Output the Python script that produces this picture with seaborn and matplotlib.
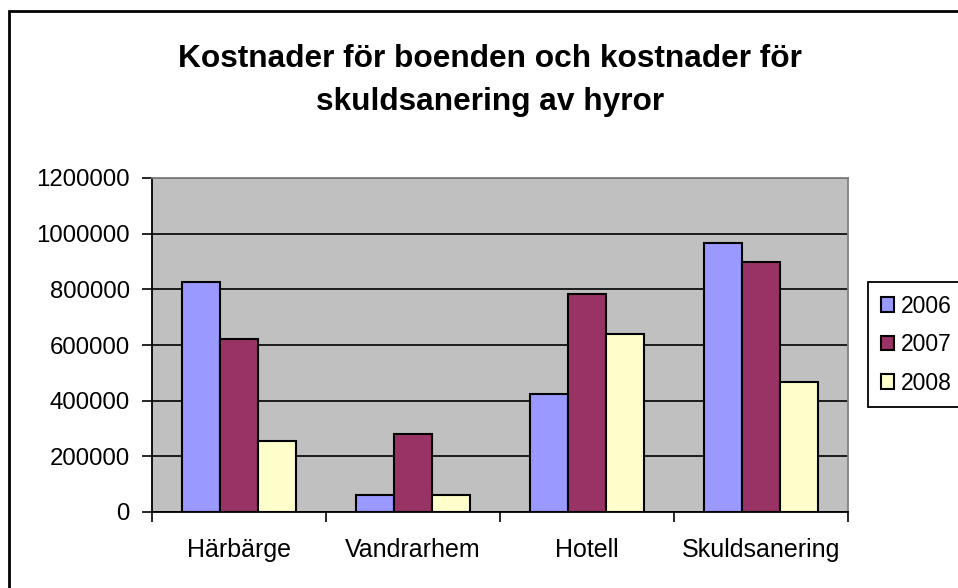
import matplotlib
matplotlib.use("Agg")
import matplotlib.pyplot as plt
from matplotlib.patches import Rectangle
import seaborn as sns
import pandas as pd

categories = ["Härbärge", "Vandrarhem", "Hotell", "Skuldsanering"]
years = ["2006", "2007", "2008"]
v2006 = [825000, 62000, 424000, 968000]
v2007 = [622000, 279000, 782000, 897000]
v2008 = [256000, 62000, 638000, 466000]
yticks = [0, 200000, 400000, 600000, 800000, 1000000, 1200000]
title = "Kostnader för boenden och kostnader för\nskuldsanering av hyror"
colors = ["#9999FF", "#993366", "#FFFFCC"]

rows = []
for yr, vals in zip(years, [v2006, v2007, v2008]):
    for c, v in zip(categories, vals):
        rows.append({"Kategori": c, "År": yr, "Värde": v})
df = pd.DataFrame(rows)

sns.set_style("white")
plt.rcParams["font.family"] = ["Liberation Sans", "DejaVu Sans"]
plt.rcParams["text.color"] = "black"
plt.rcParams["xtick.color"] = "black"
plt.rcParams["ytick.color"] = "black"
plt.rcParams["xtick.labelcolor"] = "black"
plt.rcParams["ytick.labelcolor"] = "black"

fig = plt.figure(figsize=(9.58, 5.88), dpi=100)
fig.patch.set_facecolor("white")
ax = fig.add_axes([152/958, 1-512/588, (848-152)/958, (512-178)/588])

sns.barplot(data=df, x="Kategori", y="Värde", hue="År", order=categories,
            hue_order=years, palette=colors, width=0.66, saturation=1,
            edgecolor="black", linewidth=1.5, ax=ax, legend=True)

ax.set_facecolor("#C0C0C0")
ax.set_xlim(-0.5, 3.5)
ax.set_ylim(0, 1200000)
ax.set_yticks(yticks)
ax.set_yticklabels([str(t) for t in yticks])
ax.set_xlabel("")
ax.set_ylabel("")
ax.set_axisbelow(True)
ax.yaxis.grid(True, color="black", linewidth=1.2)
ax.xaxis.grid(False)

for s in ["left", "bottom"]:
    ax.spines[s].set_color("black")
    ax.spines[s].set_linewidth(1.3)
for s in ["top", "right"]:
    ax.spines[s].set_color("#808080")
    ax.spines[s].set_linewidth(1.3)

ax.tick_params(axis="y", which="major", direction="out", length=7, width=1.2,
               color="black", labelcolor="black", labelsize=17.3, pad=9, left=True)
ax.set_xticks([0, 1, 2, 3])
ax.set_xticklabels(categories)
ax.tick_params(axis="x", which="major", length=0, labelsize=18, pad=19,
               labelcolor="black")
ax.set_xticks([-0.5, 0.5, 1.5, 2.5, 3.5], minor=True)
ax.tick_params(axis="x", which="minor", direction="out", length=7, width=1.2,
               color="black", bottom=True)

fig.text(490/958, 1-80.5/588, title, ha="center", va="center", color="black",
         fontsize=22.8, fontweight="bold", linespacing=1.58)

handles, labels = ax.get_legend_handles_labels()
leg = ax.legend(handles, labels, loc="upper left",
                bbox_to_anchor=(868/958, 1-282/588), bbox_transform=fig.transFigure,
                frameon=True, fancybox=False, edgecolor="black", framealpha=1,
                fontsize=16.5, handlelength=0.6, handleheight=0.6,
                handletextpad=0.3, labelspacing=0.68, borderpad=0.55,
                borderaxespad=0)
leg.get_frame().set_linewidth(1.3)
for t in leg.get_texts():
    t.set_color("black")

fig.add_artist(Rectangle((9/958, -0.2), 1.5, 1.2 - 11/588,
                         transform=fig.transFigure, fill=False,
                         edgecolor="black", linewidth=2))

fig.savefig("out.png", dpi=100)
